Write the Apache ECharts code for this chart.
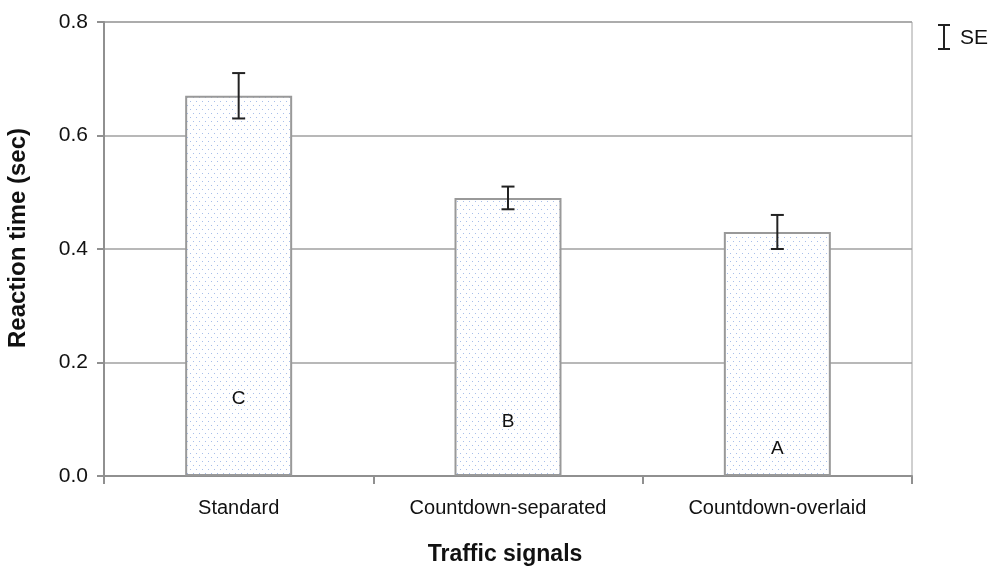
<!DOCTYPE html>
<html><head><meta charset="utf-8">
<script src="https://cdn.jsdelivr.net/npm/echarts@6/dist/echarts.min.js"></script>
<style>html,body{margin:0;padding:0;background:#fff}#c{width:992px;height:569px}</style>
</head><body><div id="c"></div>
<script>
const categories = ['Standard', 'Countdown-separated', 'Countdown-overlaid'];
const means = [0.67, 0.49, 0.43];
const seLow = [0.63, 0.47, 0.40];
const seHigh = [0.71, 0.51, 0.46];
const letters = ['C', 'B', 'A'];
const letterPos = [0.136, 0.096, 0.048];
const yTicks = ['0.0', '0.2', '0.4', '0.6', '0.8'];

const pc = document.createElement('canvas');
pc.width = 6; pc.height = 8;
const g = pc.getContext('2d');
g.fillStyle = '#fff'; g.fillRect(0, 0, 6, 8);
g.fillStyle = '#a8bfea';
g.fillRect(1, 1, 1, 1); g.fillRect(4, 5, 1, 1);

const font = 'Liberation Sans, Arial, sans-serif';
const chart = echarts.init(document.getElementById('c'), null, {renderer: 'canvas'});
chart.setOption({
  animation: false,
  grid: {left: 104, right: 80, top: 22, bottom: 93, show: true, borderColor: '#a0a0a0', borderWidth: 1,
    containLabel: false, outerBoundsMode: 'none'},
  xAxis: {
    type: 'category', data: categories,
    axisLine: {lineStyle: {color: '#909090', width: 2}},
    axisTick: {show: true, length: 8, lineStyle: {color: '#909090', width: 2}},
    axisLabel: {color: '#111', fontSize: 20, fontFamily: font, margin: 22},
    name: 'Traffic signals', nameLocation: 'middle', nameGap: 67,
    nameTextStyle: {color: '#111', fontSize: 23, fontWeight: 'bold', fontFamily: font, padding: [0, 6, 0, 0]}
  },
  yAxis: {
    type: 'value', min: 0, max: 0.8, interval: 0.2,
    axisLine: {show: true, lineStyle: {color: '#909090', width: 2}},
    axisTick: {show: true, length: 7, lineStyle: {color: '#909090', width: 2}},
    splitLine: {lineStyle: {color: '#a0a0a0', width: 1.5}},
    axisLabel: {color: '#111', fontSize: 21, fontFamily: font, margin: 16,
      formatter: (v) => yTicks[Math.round(v / 0.2)]},
    name: 'Reaction time (sec)', nameLocation: 'middle', nameGap: 74, nameRotate: 90,
    nameTextStyle: {color: '#111', fontSize: 24, fontWeight: 'bold', fontFamily: font, padding: [0, 0, 0, 22]}
  },
  graphic: [
    {type: 'line', shape: {x1: 944, y1: 25, x2: 944, y2: 49}, style: {stroke: '#222', lineWidth: 2}},
    {type: 'line', shape: {x1: 938, y1: 25, x2: 950, y2: 25}, style: {stroke: '#222', lineWidth: 2}},
    {type: 'line', shape: {x1: 938, y1: 49, x2: 950, y2: 49}, style: {stroke: '#222', lineWidth: 2}},
    {type: 'text', left: 960, top: 28, style: {text: 'SE', fill: '#111', fontSize: 21, fontFamily: font}}
  ],
  series: [
    {
      type: 'bar', data: means, barWidth: 107,
      itemStyle: {color: {image: pc, repeat: 'repeat'}, borderColor: '#999', borderWidth: 2},
      z: 2
    },
    {
      type: 'custom', z: 5,
      data: categories.map((c, i) => [i, seLow[i], seHigh[i]]),
      renderItem: (params, api) => {
        const lo = api.coord([api.value(0), api.value(1)]);
        const hi = api.coord([api.value(0), api.value(2)]);
        const w = 6.5;
        const st = {stroke: '#222', lineWidth: 2};
        return {type: 'group', children: [
          {type: 'line', shape: {x1: lo[0], y1: lo[1], x2: hi[0], y2: hi[1]}, style: st},
          {type: 'line', shape: {x1: lo[0] - w, y1: lo[1], x2: lo[0] + w, y2: lo[1]}, style: st},
          {type: 'line', shape: {x1: hi[0] - w, y1: hi[1], x2: hi[0] + w, y2: hi[1]}, style: st}
        ]};
      }
    },
    {
      type: 'custom', z: 6,
      data: categories.map((c, i) => [i, letterPos[i]]),
      renderItem: (params, api) => {
        const p = api.coord([api.value(0), api.value(1)]);
        return {type: 'text', x: p[0], y: p[1], style: {text: letters[params.dataIndex], fill: '#111',
          fontSize: 19, fontFamily: font, align: 'center', verticalAlign: 'middle'}};
      }
    }
  ]
});
</script></body></html>
